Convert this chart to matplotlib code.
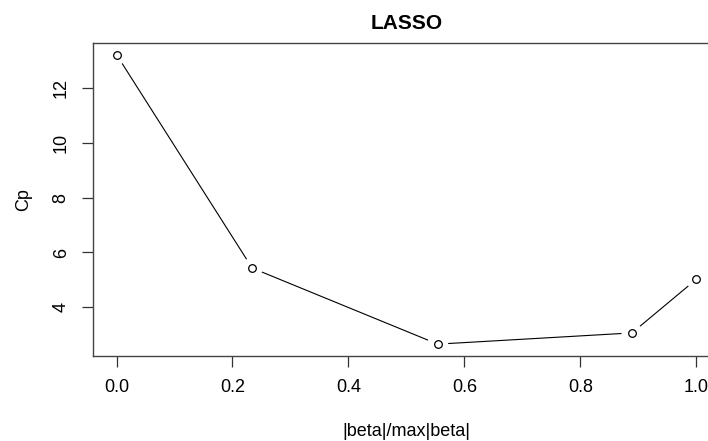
import numpy as np
import matplotlib
matplotlib.use("Agg")
import matplotlib.pyplot as plt

plt.rcParams["font.family"] = ["Liberation Sans", "DejaVu Sans"]

# lasso path: fraction of max |beta| vs Mallows Cp
frac = [0.0, 0.234, 0.554, 0.889, 1.0]
cp = [13.23, 5.43, 2.65, 3.06, 5.02]

x_ticks = [0.0, 0.2, 0.4, 0.6, 0.8, 1.0]
y_ticks = [4, 6, 8, 10, 12]

fig = plt.figure(figsize=(7.08, 4.41), dpi=100)
ax = fig.add_axes([0.1318, 0.1934, 0.8845, 0.709])

# R-style 4% padding
xr = max(frac) - min(frac)
yr = max(cp) - min(cp)
ax.set_xlim(min(frac) - 0.04 * xr, max(frac) + 0.04 * xr)
ax.set_ylim(min(cp) - 0.04 * yr, max(cp) + 0.04 * yr)

ax.plot(frac, cp, linestyle="none", marker="o", markersize=5.5,
        markerfacecolor="white", markeredgecolor="black", markeredgewidth=0.9)

# type="b": segments stop short of the points
fig.canvas.draw()
gap = 11
pts = ax.transData.transform(np.column_stack([frac, cp]))
inv = ax.transData.inverted()
for p0, p1 in zip(pts[:-1], pts[1:]):
    d = p1 - p0
    n = np.hypot(*d)
    if n <= 2 * gap:
        continue
    u = d / n
    seg = inv.transform(np.array([p0 + u * gap, p1 - u * gap]))
    ax.plot(seg[:, 0], seg[:, 1], color="black", linewidth=0.8)

ax.set_xticks(x_ticks)
ax.set_xticklabels([f"{v:.1f}" for v in x_ticks])
ax.set_yticks(y_ticks)
ax.set_yticklabels([str(v) for v in y_ticks], rotation=90, va="center")

for s in ax.spines.values():
    s.set_color("#444444")
    s.set_linewidth(1.0)
ax.tick_params(direction="out", length=8, width=0.9, color="#333333",
               labelsize=13, pad=9)

ax.set_title("LASSO", fontsize=15, fontweight="bold", pad=10)
ax.set_xlabel("|beta|/max|beta|", fontsize=13, labelpad=19)
ax.set_ylabel("Cp", fontsize=13, labelpad=15)

fig.savefig("out.png", dpi=100)
